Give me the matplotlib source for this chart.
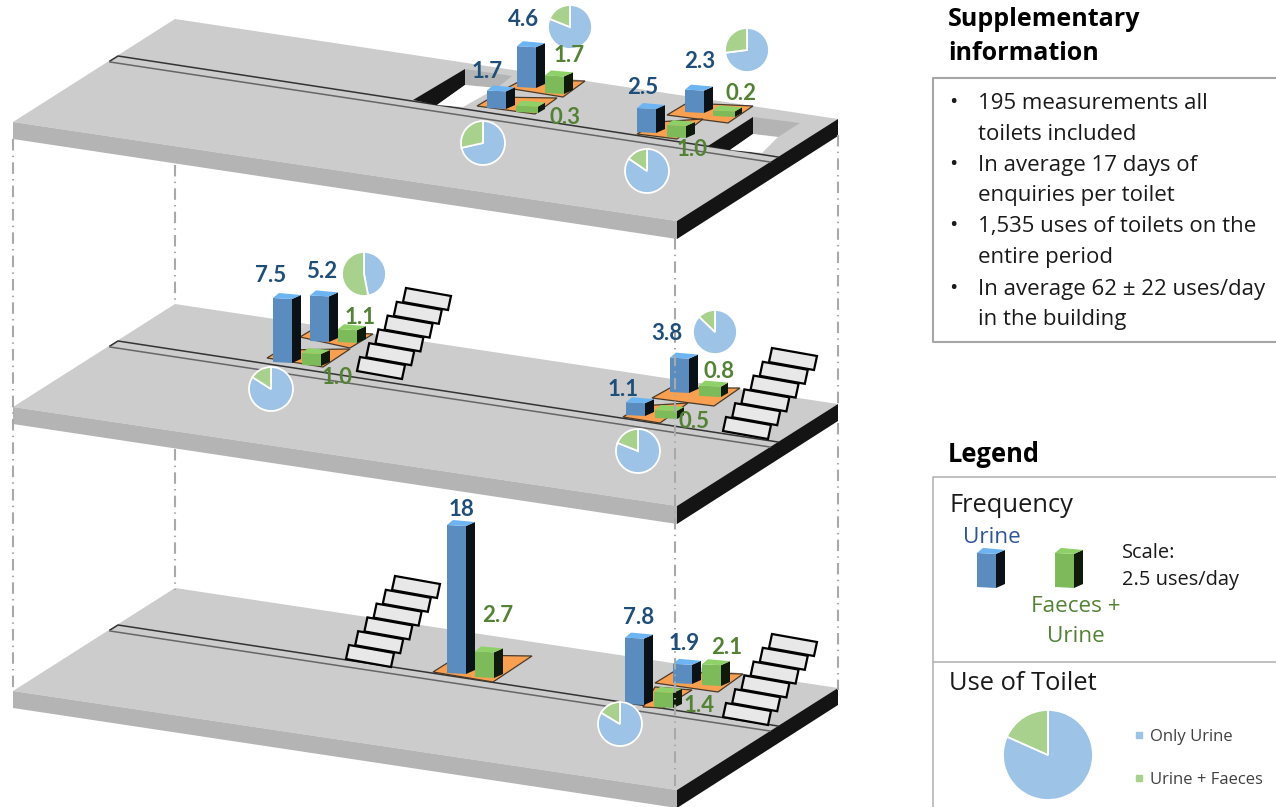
import matplotlib
matplotlib.use("Agg")
import matplotlib.pyplot as plt
from matplotlib.patches import Polygon, Rectangle

# values, uses per day
urine_values = [4.6, 1.7, 2.5, 2.3, 7.5, 5.2, 3.8, 1.1, 18, 7.8, 1.9]
faeces_values = [1.7, 0.3, 1.0, 0.2, 1.1, 1.0, 0.8, 0.5, 2.7, 2.1, 1.4]
# share of urine + faeces in each toilet pie
faeces_share = [0.19, 0.27, 0.285, 0.155, 0.53, 0.16, 0.128, 0.19, 0.164]
legend_share = 0.183
legend_scale_value = 2.5

info_lines = ["195 measurements all", "toilets included", "In average 17 days of",
              "enquiries per toilet", "1,535 uses of toilets on the", "entire period",
              "In average 62 ± 22 uses/day", "in the building"]
info_bullets = [True, False, True, False, True, False, True, False]

# where things stand on the drawing (pixels)
urine_pos = [(517, 87), (487, 108), (637, 132), (685, 112), (273, 362), (310, 341),
             (670, 392), (626, 415), (447, 673), (625, 704), (673, 683)]
faeces_pos = [(545, 93), (516, 112), (667, 137), (713, 116), (338, 342), (302, 365),
              (699, 396), (655, 418), (475, 677), (702, 685), (654, 707)]
urine_label_pos = [(524, 19), (487, 71), (643, 88), (700, 62), (271, 275), (322, 272),
                   (667, 333), (623, 389), (461, 509), (639, 617), (684, 644)]
faeces_label_pos = [(569, 55), (565, 117), (692, 150), (741, 93), (360, 317), (337, 377),
                    (719, 371), (694, 421), (498, 616), (727, 648), (699, 706)]
pie_pos = [(570, 27), (747, 50), (483, 143), (647, 171), (364, 274), (271, 389),
           (715, 332), (638, 451), (620, 724)]
floor_shift = [0, 285, 569]
stair_pos = [(357, 371), (723, 431), (346, 659), (723, 717)]
platforms = [
    [(507, 88), (522, 80), (585, 81), (563, 97)],
    [(477, 106), (492, 97), (557, 98), (535, 114)],
    [(667, 115), (687, 103), (753, 106), (728, 123)],
    [(637, 134), (657, 122), (703, 119), (677, 139)],
    [(300, 337), (310, 331), (373, 334), (350, 348)],
    [(267, 358), (280, 350), (350, 349), (323, 367)],
    [(652, 398), (670, 388), (740, 388), (714, 406)],
    [(623, 417), (640, 406), (688, 403), (660, 423)],
    [(433, 672), (460, 655), (532, 656), (493, 682)],
    [(655, 683), (673, 672), (743, 674), (718, 692)],
    [(643, 707), (655, 687), (692, 690), (663, 708)],
]
guide_lines = [(13, 139, 690), (175, 165, 305), (175, 449, 590), (838, 135, 405),
               (838, 423, 690), (675, 238, 788)]

BLUE = ("#5a8cbf", "#6cb4f2", "#0a1218")
GREEN = ("#7dbb5a", "#8ed168", "#0f1a0a")
BLUE_TEXT = "#1f4e79"
GREEN_TEXT = "#548235"
PIE_COLORS = ["#9dc3e6", "#a9d18e"]
LABEL_FONT = "Lato"
TEXT_FONT = "Open Sans"

fig = plt.figure(figsize=(12.76, 8.07), dpi=100)
ax = fig.add_axes([0, 0, 1, 1])


def poly(points, color, z=1, edge="none", lw=0):
    ax.add_patch(Polygon(points, closed=True, facecolor=color, edgecolor=edge, linewidth=lw, zorder=z))


def bar_height(value):
    return 4 + 8 * value


def bar3d(x, y, value, colors, z=5, scale=1.0):
    h = bar_height(value) * scale
    # the short bars are drawn as wide flat slabs
    w = 22 if value < 1 else 19
    s = 7 if value < 1 else 9
    poly([(x, y), (x + w, y + 1), (x + w, y + 1 - h), (x, y - h)], colors[0], z)
    poly([(x + w, y + 1), (x + w + s, y - 3), (x + w + s, y - h - 3), (x + w, y + 1 - h)], colors[2], z)
    poly([(x, y - h), (x + 6, y - h - 5), (x + w + s, y - h - 3), (x + w, y + 1 - h)], colors[1], z)


def floor(dy):
    poly([(13, 122 + dy), (175, 19 + dy), (838, 119 + dy), (677, 221 + dy)], "#cccccc", 1)
    poly([(13, 122 + dy), (677, 221 + dy), (677, 239 + dy), (13, 139 + dy)], "#b4b4b4", 1)
    poly([(677, 221 + dy), (838, 119 + dy), (838, 136 + dy), (677, 239 + dy)], "#141414", 1)
    ax.plot([110, 118, 778], [61 + dy, 56 + dy, 157 + dy], color="#333333", lw=1.1, zorder=2)
    ax.plot([110, 770], [62 + dy, 162 + dy], color="#666666", lw=1.1, zorder=2)


def stairs(x, y):
    for i in range(6):
        px = x + 9.2 * i
        py = y - 13.8 * i
        poly([(px, py), (px + 3, py - 14), (px + 48, py - 6), (px + 45, py + 8)],
             "#e8e8e8", 4 - i * 0.01, "black", 1.6)


def pie(center, share, radius):
    ax.pie([1 - share, share], colors=PIE_COLORS, center=center, radius=radius, startangle=-90,
           counterclock=True, wedgeprops={"edgecolor": "white", "linewidth": 1.3, "zorder": 7})


def label(pos, value, color):
    txt = "18" if value >= 10 else f"{value:.1f}"
    ax.text(pos[0], pos[1], txt, color=color, fontsize=16, fontweight="bold", family=LABEL_FONT,
            ha="center", va="center", zorder=9)


def panel_text(x, y, txt, size, color="#1a1a1a", weight="normal", ha="left"):
    ax.text(x, y, txt, fontsize=size, family=TEXT_FONT, color=color, fontweight=weight,
            ha=ha, va="center_baseline")


for dy in floor_shift:
    floor(dy)

# stair holes in the top slab
poly([(413, 100), (465, 69), (465, 85), (437, 105)], "#141414", 2)
poly([(465, 69), (512, 76), (497, 88), (465, 85)], "#b4b4b4", 2)
poly([(437, 105), (465, 85), (497, 88), (463, 107)], "white", 2)
poly([(708, 146), (753, 117), (753, 134), (730, 150)], "#141414", 2)
poly([(753, 117), (800, 123), (778, 137), (753, 134)], "#b4b4b4", 2)
poly([(730, 150), (753, 134), (778, 137), (762, 153)], "white", 2)

for p in platforms:
    poly(p, "#f9a050", 3, "#4a3a2a", 0.9)

for pos, v in zip(urine_pos, urine_values):
    bar3d(pos[0], pos[1], v, BLUE)
for pos, v in zip(faeces_pos, faeces_values):
    bar3d(pos[0], pos[1], v, GREEN)

for s in stair_pos:
    stairs(s[0], s[1])

for x, y0, y1 in guide_lines:
    ax.plot([x, x], [y0, y1], color="#a9a9a9", lw=1.5, zorder=6, dashes=(5.5, 2.5, 0.7, 2.5))

for pos, share in zip(pie_pos, faeces_share):
    pie(pos, share, 22)

for pos, v in zip(urine_label_pos, urine_values):
    label(pos, v, BLUE_TEXT)
for pos, v in zip(faeces_label_pos, faeces_values):
    label(pos, v, GREEN_TEXT)

# right hand panel
panel_text(948, 16, "Supplementary", 18, "black", "bold")
panel_text(948, 51, "information", 18, "black", "bold")
ax.plot([1276, 933, 933, 1276], [78, 78, 342, 342], color="#a6a6a6", lw=1.5)
info_y = [101, 132, 163, 193, 224, 255, 287, 317]
for txt, bullet, y in zip(info_lines, info_bullets, info_y):
    panel_text(978, y, txt, 16)
    if bullet:
        panel_text(953, y - 1, "•", 16, ha="center")

panel_text(948, 452, "Legend", 18.4, "black", "bold")
ax.plot([1276, 933, 933], [477, 477, 807], color="#b5b5b5", lw=1.2)
ax.plot([933, 1276], [662, 662], color="#b5b5b5", lw=1.2)
panel_text(949, 503, "Frequency", 18.4)
panel_text(992, 535, "Urine", 16.2, "#2f5597", ha="center")
panel_text(1076, 604, "Faeces +", 16.2, GREEN_TEXT, ha="center")
panel_text(1076, 634, "Urine", 16.2, GREEN_TEXT, ha="center")
panel_text(1122, 550, "Scale:", 14.4)
panel_text(1122, 577, "2.5 uses/day", 14.4)
bar3d(977, 587, legend_scale_value, BLUE, scale=1.42)
bar3d(1055, 587, legend_scale_value, GREEN, scale=1.42)
panel_text(949, 681, "Use of Toilet", 18.4)
pie((1048, 755), legend_share, 45)
ax.add_patch(Rectangle((1136, 732), 6, 6, color=PIE_COLORS[0]))
ax.add_patch(Rectangle((1136, 775), 6, 6, color=PIE_COLORS[1]))
panel_text(1150, 735, "Only Urine", 12, "#404040")
panel_text(1150, 778, "Urine + Faeces", 12, "#404040")

ax.set_xlim(0, 1276)
ax.set_ylim(807, 0)
ax.axis("off")
fig.savefig("out.png", dpi=100)
